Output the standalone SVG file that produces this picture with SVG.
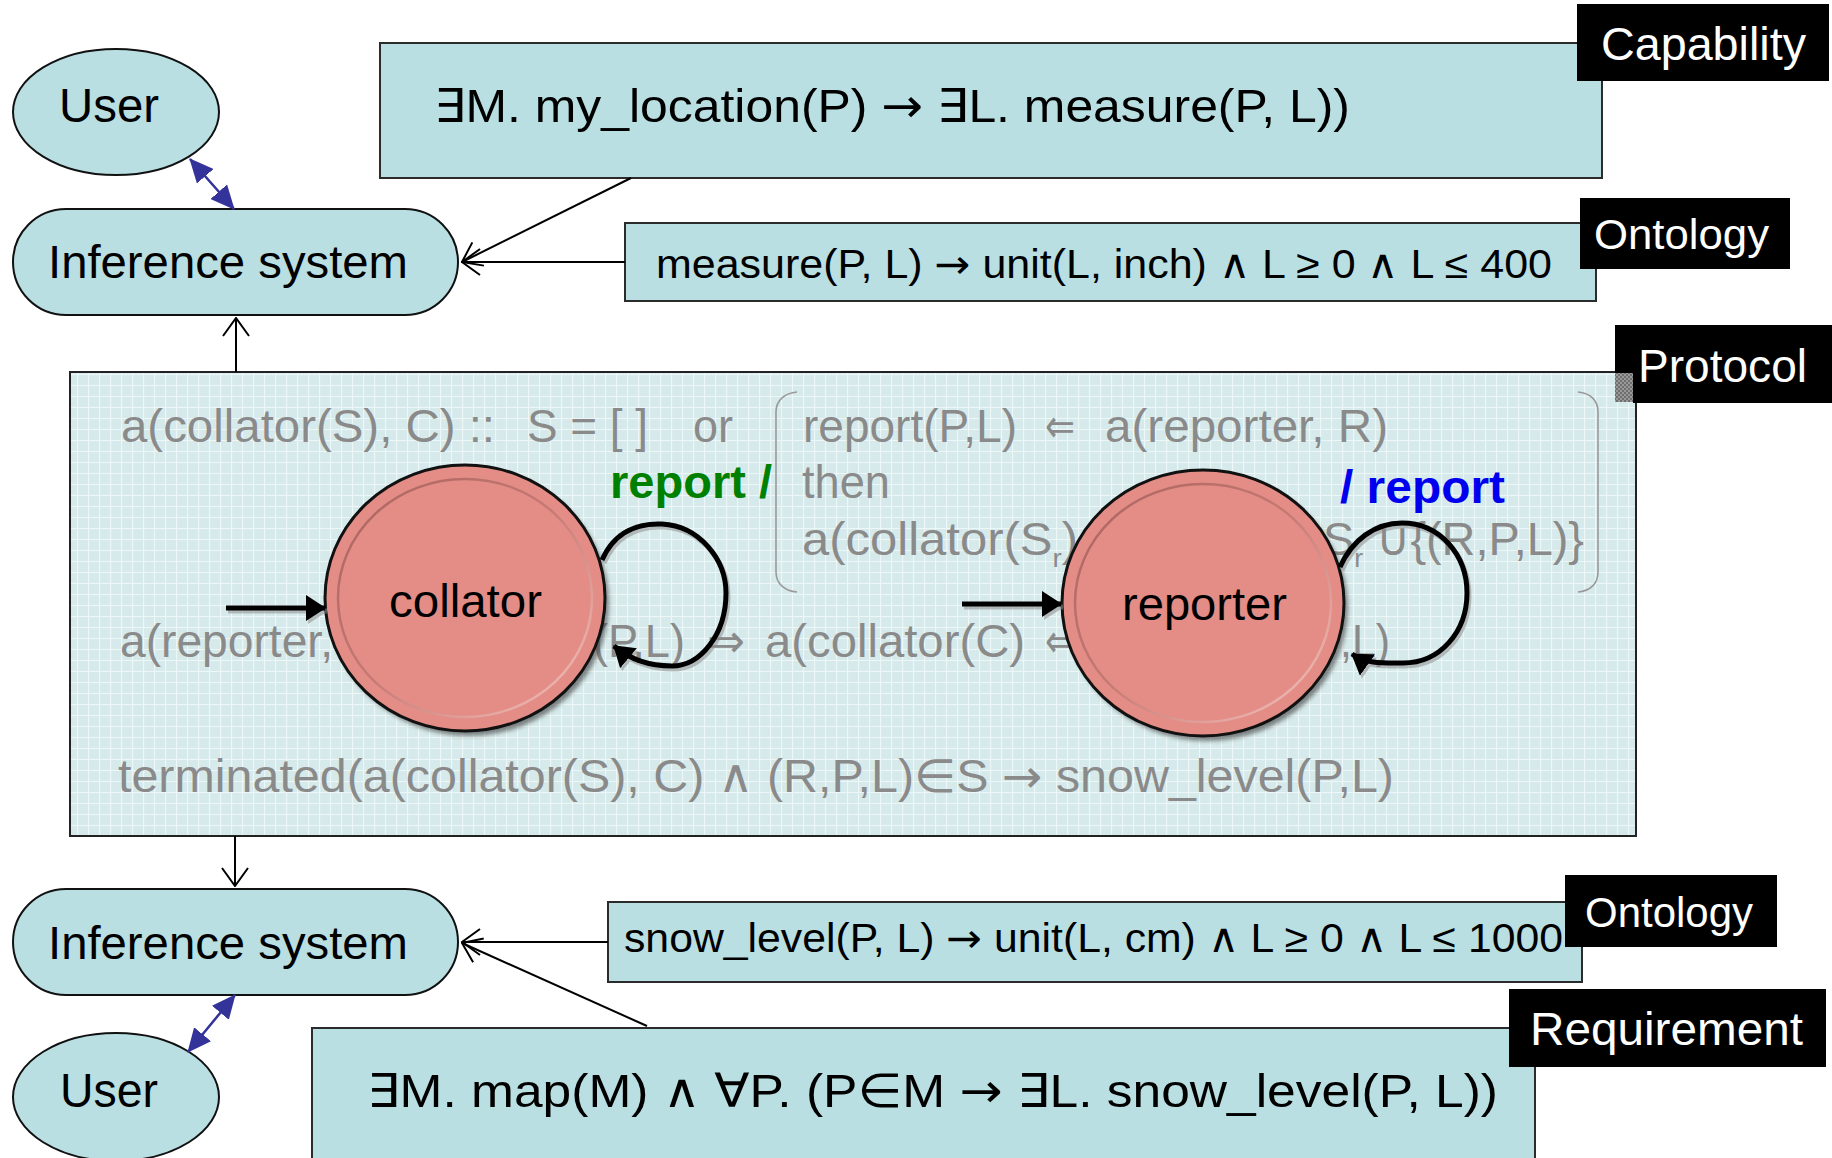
<svg xmlns="http://www.w3.org/2000/svg" width="1832" height="1158" viewBox="0 0 1832 1158">
<style>
  text { font-family: "Liberation Sans", Arial, "DejaVu Sans", sans-serif; }
  .node { fill: #b9dfe2; stroke: #111; stroke-width: 2; }
  .box { fill: #b9dfe2; stroke: #2b2b2b; stroke-width: 2; }
  .tag { fill: #000; }
  .tagtxt { fill: #fff; }
  .t { fill: #000; }
  .g { fill: #8a8a8a; font-size: 46px; }
  .sym { font-family: "DejaVu Sans", sans-serif; }
  .thin { font-family: "DejaVu Sans", sans-serif; font-weight: 200; }
  .conn { stroke: #000; stroke-width: 2; fill: none; }
  .blue { stroke: #333399; stroke-width: 2.5; fill: none; }
  .trans { stroke: #000; stroke-width: 5; fill: none; }
  .transShadow { stroke: #8f8f8f; stroke-width: 5; fill: none; opacity: 0.55; }
  .state { fill: #e48c86; stroke: #111; stroke-width: 3; }
  .bracket { fill: none; stroke: #9a9a9a; stroke-width: 1.6; }
</style>
<defs>
  <pattern id="grid" width="11" height="11" patternUnits="userSpaceOnUse">
    <rect width="11" height="11" fill="#d7eaeb"/>
    <path d="M0 0.5H11M0.5 0V11" stroke="#eef7f7" stroke-width="1.2"/>
  </pattern>
  <pattern id="checker" width="4" height="4" patternUnits="userSpaceOnUse">
    <rect width="4" height="4" fill="#9a9a9a"/>
    <rect width="2" height="2" fill="#6e6e6e"/>
    <rect x="2" y="2" width="2" height="2" fill="#6e6e6e"/>
  </pattern>
  <linearGradient id="ring" x1="0" y1="0" x2="1" y2="1">
    <stop offset="0" stop-color="#a8625e"/>
    <stop offset="0.5" stop-color="#c77b75"/>
    <stop offset="1" stop-color="#f8c6c1"/>
  </linearGradient>
  <filter id="soft" x="-10%" y="-10%" width="120%" height="120%">
    <feGaussianBlur stdDeviation="2"/>
  </filter>
  <marker id="open" viewBox="0 0 20 28" refX="19" refY="14" markerWidth="20" markerHeight="28" orient="auto" markerUnits="userSpaceOnUse">
    <path d="M1,1 L19,14 L1,27" fill="none" stroke="#000" stroke-width="2"/>
  </marker>
  <marker id="blueHead" viewBox="0 0 24 22" refX="23" refY="11" markerWidth="24" markerHeight="22" orient="auto-start-reverse" markerUnits="userSpaceOnUse">
    <path d="M0,0 L24,11 L0,22 z" fill="#333399"/>
  </marker>
  <marker id="solid" viewBox="0 0 20 26" refX="19" refY="13" markerWidth="20" markerHeight="26" orient="auto" markerUnits="userSpaceOnUse">
    <path d="M0,0 L20,13 L0,26 z" fill="#000"/>
  </marker>
  <marker id="solidShadow" viewBox="0 0 20 26" refX="19" refY="13" markerWidth="20" markerHeight="26" orient="auto" markerUnits="userSpaceOnUse">
    <path d="M0,0 L20,13 L0,26 z" fill="#8f8f8f"/>
  </marker>
</defs>

<rect width="1832" height="1158" fill="#fff"/>

<!-- upper half -->
<g id="user-top">
  <ellipse class="node" cx="116" cy="112" rx="103" ry="63"/>
  <text class="t" x="59" y="122" font-size="48" textLength="100" lengthAdjust="spacingAndGlyphs">User</text>
</g>
<g id="inference-top">
  <rect class="node" x="13" y="209" width="445" height="106" rx="53"/>
  <text class="t" x="48" y="278" font-size="47" textLength="360" lengthAdjust="spacingAndGlyphs">Inference system</text>
</g>
<g id="capability">
  <rect class="box" x="380" y="43" width="1222" height="135"/>
  <text class="t" x="434" y="122" font-size="47" textLength="916" lengthAdjust="spacingAndGlyphs">∃M. my_location(P) <tspan class="sym">→</tspan> ∃L. measure(P, L))</text>
  <rect class="tag" x="1577" y="4" width="252" height="77"/>
  <text class="tagtxt" x="1601" y="60" font-size="46" textLength="205" lengthAdjust="spacingAndGlyphs">Capability</text>
</g>
<g id="ontology-top">
  <rect class="box" x="625" y="223" width="971" height="78"/>
  <text class="t" x="656" y="278" font-size="40" textLength="896" lengthAdjust="spacingAndGlyphs">measure(P, L) <tspan class="sym">→</tspan> unit(L, inch) <tspan class="thin">∧</tspan> L ≥ 0 <tspan class="thin">∧</tspan>  L ≤ 400</text>
  <rect class="tag" x="1580" y="198" width="210" height="71"/>
  <text class="tagtxt" x="1594" y="249" font-size="42" textLength="175" lengthAdjust="spacingAndGlyphs">Ontology</text>
</g>

<!-- protocol panel -->
<g id="protocol">
  <rect x="70" y="372" width="1566" height="464" fill="url(#grid)" stroke="#222" stroke-width="2"/>
  <rect x="1615" y="373" width="18" height="29" fill="url(#checker)"/>
  <rect class="tag" x="1633" y="325" width="199" height="78"/>
  <rect class="tag" x="1615" y="325" width="20" height="48"/>
  <text class="tagtxt" x="1638" y="382" font-size="46" textLength="169" lengthAdjust="spacingAndGlyphs">Protocol</text>

  <text class="g" x="121" y="442" textLength="374" lengthAdjust="spacingAndGlyphs">a(collator(S), C) ::</text>
  <text class="g" x="527" y="442" textLength="121" lengthAdjust="spacingAndGlyphs">S = [ ]</text>
  <text class="g" x="693" y="442" textLength="40" lengthAdjust="spacingAndGlyphs">or</text>
  <text class="g" x="803" y="442" textLength="214" lengthAdjust="spacingAndGlyphs">report(P,L)</text>
  <text class="g" x="1045" y="442" font-size="34" textLength="30" lengthAdjust="spacingAndGlyphs">⇐</text>
  <text class="g" x="1105" y="442" textLength="283" lengthAdjust="spacingAndGlyphs">a(reporter, R)</text>
  <text class="g" x="802" y="498" textLength="88" lengthAdjust="spacingAndGlyphs">then</text>
  <text class="g" x="802" y="555" textLength="276" lengthAdjust="spacingAndGlyphs">a(collator(S<tspan font-size="26" dy="12">r</tspan><tspan dy="-12">)</tspan></text>
  <text class="g" x="1323" y="555" textLength="261" lengthAdjust="spacingAndGlyphs">S<tspan font-size="26" dy="12">r</tspan><tspan dy="-12"> ∪{(R,P,L)}</tspan></text>
  <text class="g" x="120" y="657" textLength="213" lengthAdjust="spacingAndGlyphs">a(reporter,</text>
  <text class="g" x="593" y="657" textLength="92" lengthAdjust="spacingAndGlyphs">(P,L)</text>
  <text class="g" x="707" y="657" font-size="40" textLength="38" lengthAdjust="spacingAndGlyphs">⇒</text>
  <text class="g" x="765" y="657" textLength="260" lengthAdjust="spacingAndGlyphs">a(collator(C)</text>
  <text class="g" x="1045" y="657" font-size="34" textLength="30" lengthAdjust="spacingAndGlyphs">⇐</text>
  <text class="g" x="1340" y="657" textLength="50" lengthAdjust="spacingAndGlyphs">,L)</text>
  <text class="g" x="118" y="792" textLength="1276" lengthAdjust="spacingAndGlyphs">terminated(a(collator(S), C) <tspan class="thin">∧</tspan> (R,P,L)∈S <tspan class="sym">→</tspan> snow_level(P,L)</text>

  <path class="bracket" d="M797 392 C785 393 776 400 776 412 L776 572 C776 584 785 591 797 592"/>
  <path class="bracket" d="M1578 392 C1590 393 1598 400 1598 412 L1598 572 C1598 584 1590 591 1578 592"/>

  <text x="610" y="498" font-size="47" font-weight="bold" fill="#008000" textLength="162" lengthAdjust="spacingAndGlyphs">report /</text>
  <text x="1340" y="503" font-size="47" font-weight="bold" fill="#0000ee" textLength="165" lengthAdjust="spacingAndGlyphs">/ report</text>
</g>

<g id="collator">
  <ellipse cx="469" cy="603" rx="140" ry="133" fill="#3a3a3a" opacity="0.6" filter="url(#soft)"/>
  <ellipse class="state" cx="465" cy="598" rx="140" ry="133"/>
  <ellipse cx="465" cy="598" rx="127" ry="119" fill="none" stroke="url(#ring)" stroke-width="2.5"/>
  <text class="t" x="389" y="617" font-size="47" textLength="153" lengthAdjust="spacingAndGlyphs">collator</text>
</g>
<g id="reporter">
  <ellipse cx="1207" cy="608" rx="141" ry="133" fill="#3a3a3a" opacity="0.6" filter="url(#soft)"/>
  <ellipse class="state" cx="1203" cy="603" rx="141" ry="133"/>
  <ellipse cx="1203" cy="603" rx="128" ry="119" fill="none" stroke="url(#ring)" stroke-width="2.5"/>
  <text class="t" x="1122" y="620" font-size="47" textLength="165" lengthAdjust="spacingAndGlyphs">reporter</text>
</g>

<!-- lower half -->
<g id="inference-bottom">
  <rect class="node" x="13" y="889" width="445" height="106" rx="53"/>
  <text class="t" x="48" y="959" font-size="47" textLength="360" lengthAdjust="spacingAndGlyphs">Inference system</text>
</g>
<g id="user-bottom">
  <ellipse class="node" cx="116" cy="1097" rx="103" ry="64"/>
  <text class="t" x="60" y="1107" font-size="48" textLength="98" lengthAdjust="spacingAndGlyphs">User</text>
</g>
<g id="ontology-bottom">
  <rect class="box" x="608" y="902" width="974" height="80"/>
  <text class="t" x="624" y="952" font-size="40" textLength="939" lengthAdjust="spacingAndGlyphs">snow_level(P, L) <tspan class="sym">→</tspan> unit(L, cm) <tspan class="thin">∧</tspan> L ≥ 0 <tspan class="thin">∧</tspan>  L ≤ 1000</text>
  <rect class="tag" x="1565" y="875" width="212" height="72"/>
  <text class="tagtxt" x="1585" y="927" font-size="42" textLength="168" lengthAdjust="spacingAndGlyphs">Ontology</text>
</g>
<g id="requirement">
  <rect class="box" x="312" y="1028" width="1223" height="145"/>
  <text class="t" x="367" y="1107" font-size="47" textLength="1131" lengthAdjust="spacingAndGlyphs">∃M. map(M) <tspan class="thin">∧</tspan> ∀P. (P∈M <tspan class="sym">→</tspan> ∃L. snow_level(P, L))</text>
  <rect class="tag" x="1509" y="989" width="317" height="78"/>
  <text class="tagtxt" x="1530" y="1045" font-size="47" textLength="273" lengthAdjust="spacingAndGlyphs">Requirement</text>
</g>

<g id="connectors">
  <!-- user / inference links -->
  <line class="blue" x1="190" y1="159" x2="234" y2="209" marker-start="url(#blueHead)" marker-end="url(#blueHead)"/>
  <line class="blue" x1="235" y1="995" x2="188" y2="1052" marker-start="url(#blueHead)" marker-end="url(#blueHead)"/>
  <!-- inputs to the upper inference system -->
  <line class="conn" x1="631" y1="178" x2="462" y2="262" marker-end="url(#open)"/>
  <line class="conn" x1="625" y1="262" x2="462" y2="262" marker-end="url(#open)"/>
  <line class="conn" x1="236" y1="372" x2="236" y2="318" marker-end="url(#open)"/>
  <!-- inputs to the lower inference system -->
  <line class="conn" x1="235" y1="836" x2="235" y2="886" marker-end="url(#open)"/>
  <line class="conn" x1="608" y1="942" x2="462" y2="942" marker-end="url(#open)"/>
  <line class="conn" x1="647" y1="1026" x2="462" y2="943" marker-end="url(#open)"/>
  <!-- state machine transitions -->
  <g transform="translate(2,3)">
    <line class="transShadow" x1="226" y1="608" x2="325" y2="608" marker-end="url(#solidShadow)"/>
    <line class="transShadow" x1="962" y1="604" x2="1061" y2="604" marker-end="url(#solidShadow)"/>
    <path class="transShadow" d="M602 560 C615 530 640 523 662 524 C700 526 726 560 726 593 C726 635 700 666 672 666 C645 666 627 657 614 646" marker-end="url(#solidShadow)"/>
    <path class="transShadow" d="M1340 567 C1352 540 1375 523 1402 523 C1440 523 1467 555 1467 593 C1467 632 1440 663 1403 663 C1383 663 1366 664 1352 654" marker-end="url(#solidShadow)"/>
  </g>
  <line class="trans" x1="226" y1="608" x2="325" y2="608" marker-end="url(#solid)"/>
  <line class="trans" x1="962" y1="604" x2="1061" y2="604" marker-end="url(#solid)"/>
  <path class="trans" d="M602 560 C615 530 640 523 662 524 C700 526 726 560 726 593 C726 635 700 666 672 666 C645 666 627 657 614 646" marker-end="url(#solid)"/>
  <path class="trans" d="M1340 567 C1352 540 1375 523 1402 523 C1440 523 1467 555 1467 593 C1467 632 1440 663 1403 663 C1383 663 1366 664 1352 654" marker-end="url(#solid)"/>
</g>
</svg>
